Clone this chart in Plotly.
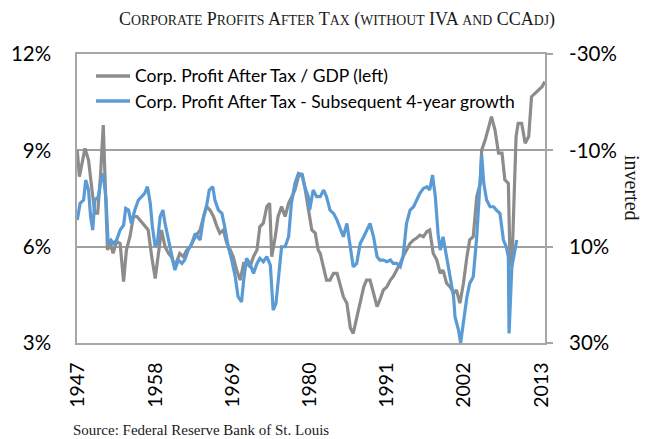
import plotly.graph_objects as go

# Corp. Profit After Tax / GDP (left axis, %)
gdp_years = [1946.9, 1947.2, 1948.0, 1948.5, 1949.0, 1949.4, 1949.8, 1950.2, 1950.6, 1950.9,
             1951.2, 1951.6, 1952.0, 1952.5, 1953.0, 1953.5, 1953.9, 1954.4, 1954.9, 1955.4,
             1955.8, 1956.3, 1957.0, 1957.5, 1958.0, 1958.4, 1958.9, 1959.4, 1959.9, 1960.3,
             1960.8, 1961.5, 1962.0, 1962.5, 1963.0, 1963.7, 1964.4, 1964.9, 1965.3, 1965.8,
             1966.3, 1966.8, 1967.2, 1967.7, 1968.2, 1968.7, 1969.1, 1969.6, 1970.1, 1970.6,
             1971.0, 1971.5, 1972.0, 1972.5, 1972.9, 1973.4, 1973.9, 1974.3, 1974.6, 1975.1,
             1975.5, 1976.0, 1976.5, 1977.0, 1977.4, 1977.9, 1978.4, 1978.9, 1979.3, 1979.8,
             1980.3, 1980.8, 1981.2, 1981.5, 1982.0, 1982.4, 1982.9, 1983.4, 1983.9, 1984.3,
             1984.8, 1985.3, 1985.8, 1986.2, 1986.7, 1987.2, 1987.7, 1988.1, 1988.6, 1989.1,
             1989.6, 1990.0, 1990.5, 1991.0, 1991.5, 1991.9, 1992.4, 1992.9, 1993.3, 1993.8,
             1994.3, 1994.8, 1995.2, 1995.7, 1996.2, 1996.7, 1997.1, 1997.6, 1998.1, 1998.6,
             1999.0, 1999.5, 2000.0, 2000.5, 2000.9, 2001.4, 2001.9, 2002.4, 2002.8, 2003.3,
             2003.8, 2004.3, 2004.5, 2005.0, 2005.5, 2005.9, 2006.4, 2006.9, 2007.4, 2007.8,
             2008.3, 2008.5, 2008.8, 2009.1, 2009.4, 2009.7, 2010.2, 2010.7, 2011.2, 2011.6,
             2012.1, 2012.6, 2013.1, 2013.5]
gdp_ratio = [9.01, 8.18, 9.06, 8.70, 7.76, 7.04, 7.04, 8.18, 9.79, 7.76,
             5.90, 6.10, 5.79, 6.16, 6.10, 4.91, 5.90, 6.31, 6.94, 6.94,
             6.83, 6.73, 6.52, 5.69, 5.01, 5.69, 6.52, 6.00, 5.79, 5.69,
             5.38, 5.79, 5.69, 5.90, 6.00, 6.31, 6.52, 6.94, 7.25, 7.14,
             6.94, 6.62, 6.42, 6.52, 6.10, 5.90, 5.69, 5.27, 4.96, 5.48,
             5.48, 5.38, 5.69, 5.90, 6.62, 6.73, 7.25, 7.35, 5.69, 6.31,
             6.94, 7.25, 6.94, 7.35, 7.56, 7.76, 8.18, 8.28, 7.87, 7.14,
             6.52, 6.42, 5.90, 5.79, 5.27, 4.96, 4.96, 5.17, 5.17, 4.86,
             4.44, 4.24, 3.46, 3.30, 3.82, 4.34, 4.75, 4.96, 4.96, 4.55,
             4.13, 4.34, 4.65, 4.75, 4.96, 5.07, 5.27, 5.48, 5.69, 5.90,
             6.10, 6.21, 6.26, 6.36, 6.31, 6.47, 6.52, 5.79, 5.59, 5.17,
             5.27, 4.86, 4.75, 4.55, 4.65, 4.24, 4.86, 5.69, 6.21, 6.31,
             7.56, 7.97, 9.01, 9.32, 9.74, 10.05, 9.63, 8.91, 8.91, 8.08,
             7.97, 5.90, 5.38, 7.45, 9.43, 9.84, 9.84, 9.22, 9.43, 10.67,
             10.77, 10.88, 10.98, 11.14]

# Corp. Profit After Tax - Subsequent 4-year growth (right axis, inverted, %)
growth_years = [1946.9, 1947.3, 1947.8, 1948.1, 1948.5, 1948.8, 1949.1, 1949.4, 1949.9, 1950.2,
                1950.6, 1951.0, 1951.3, 1951.7, 1952.0, 1952.5, 1953.0, 1953.5, 1953.8, 1954.2,
                1954.6, 1955.1, 1955.6, 1956.1, 1956.5, 1956.9, 1957.3, 1957.6, 1958.0, 1958.3,
                1958.7, 1959.1, 1959.4, 1959.9, 1960.3, 1960.8, 1961.3, 1961.8, 1962.2, 1962.7,
                1963.2, 1963.7, 1964.4, 1964.9, 1965.3, 1965.7, 1966.2, 1966.5, 1967.0, 1967.5,
                1967.9, 1968.4, 1968.9, 1969.4, 1969.8, 1970.3, 1970.6, 1971.0, 1971.5, 1972.0,
                1972.5, 1972.9, 1973.4, 1973.9, 1974.4, 1974.8, 1975.2, 1975.5, 1976.0, 1976.5,
                1977.0, 1977.4, 1977.9, 1978.4, 1978.9, 1979.3, 1979.8, 1980.0, 1980.5, 1981.0,
                1981.5, 1982.0, 1982.4, 1982.9, 1983.4, 1983.9, 1984.3, 1984.8, 1985.3, 1985.8,
                1986.2, 1986.7, 1987.2, 1987.7, 1988.1, 1988.6, 1989.1, 1989.6, 1990.0, 1990.5,
                1991.0, 1991.5, 1991.9, 1992.4, 1992.9, 1993.3, 1993.8, 1994.3, 1994.8, 1995.2,
                1995.7, 1996.2, 1996.7, 1997.1, 1997.5, 1997.9, 1998.3, 1998.6, 1999.0, 1999.5,
                2000.0, 2000.5, 2000.7, 2001.2, 2001.5, 2001.9, 2002.4, 2002.8, 2003.3, 2003.8,
                2004.3, 2004.5, 2004.8, 2005.2, 2005.7, 2006.2, 2006.6, 2007.1, 2007.6, 2008.0,
                2008.3, 2008.4, 2008.8, 2009.2, 2009.5]
growth_4y = [4.48, 1.02, 0.32, -3.83, -1.75, 3.78, 6.55, 0.32, -0.37, -3.14,
             -5.22, 0.32, 9.32, 8.63, 9.32, 8.63, 6.55, 5.51, 2.05, 2.40,
             5.17, 2.40, 0.32, -0.37, -1.06, -2.45, 1.02, 5.86, 10.02, 9.32,
             3.78, 2.40, 5.17, 8.63, 11.40, 14.86, 12.78, 13.48, 12.78, 10.71,
             9.32, 7.25, 8.63, 3.78, 1.71, -1.75, -2.45, 0.32, 2.40, 3.09,
             5.86, 10.02, 12.78, 16.25, 20.40, 21.44, 16.94, 12.44, 13.48, 15.55,
             13.48, 12.44, 13.13, 12.09, 13.82, 23.17, 21.78, 17.63, 10.02, 10.02,
             7.94, 1.02, -3.14, -5.22, -4.87, -2.45, -0.37, 2.40, -1.75, -0.37,
             -0.37, -1.75, -0.37, 2.40, 3.09, 4.48, 5.86, 7.94, 5.17, 10.71,
             14.17, 13.48, 9.32, 7.94, 6.55, 5.17, 7.94, 12.09, 12.78, 12.78,
             13.13, 12.78, 13.48, 13.48, 14.17, 12.09, 5.17, 2.40, 1.71, 0.32,
             -1.06, -2.10, -2.45, -1.75, -4.87, -0.37, 7.50, 10.71, 7.94, 12.09,
             16.25, 20.40, 24.55, 27.32, 30.00, 25.94, 20.40, 17.63, 16.25, 7.94,
             -3.14, -9.02, -3.14, 0.32, 1.71, 1.71, 2.40, 3.09, 8.63, 10.02,
             12.09, 28.02, 14.17, 11.40, 8.63]

left_ticks = [3, 6, 9, 12]
left_labels = ["3%", "6%", "9%", "12%"]
right_ticks = [-30, -10, 10, 30]
right_labels = ["-30%", "-10%", "10%", "30%"]
year_ticks = [1947, 1958, 1969, 1980, 1991, 2002, 2013]

GRAY = "#8c8c8c"
BLUE = "#5b9bd5"
AXIS = "#a6a6a6"
SANS = "Lato, 'Open Sans', sans-serif"
SERIF = "'Liberation Serif', 'DejaVu Serif', serif"

fig = go.Figure()
fig.add_trace(go.Scatter(x=gdp_years, y=gdp_ratio, mode="lines",
                         line=dict(color=GRAY, width=3.2), showlegend=False,
                         name="Corp. Profit After Tax / GDP (left)"))
fig.add_trace(go.Scatter(x=growth_years, y=growth_4y, mode="lines", yaxis="y2",
                         line=dict(color=BLUE, width=3.2), showlegend=False,
                         name="Corp. Profit After Tax - Subsequent 4-year growth"))

L, R, T, B = 77, 545, 54, 343
W, H = 650, 439
def px(x):
    return (x - L) / (R - L)
def py(y):
    return (B - y) / (B - T)

shapes = []
annotations = []
legend_items = [("Corp. Profit After Tax / GDP (left)", GRAY, 76),
                ("Corp. Profit After Tax - Subsequent 4-year growth", BLUE, 101)]
for text, col, yy in legend_items:
    shapes.append(dict(type="line", xref="paper", yref="paper",
                       x0=px(96), x1=px(130), y0=py(yy), y1=py(yy),
                       line=dict(color=col, width=3.5)))
    annotations.append(dict(text=text, xref="paper", yref="paper", x=px(133), y=py(yy),
                            xanchor="left", yanchor="middle", showarrow=False,
                            font=dict(family=SANS, size=17.5, color="#000000")))

SMALL = 13.8
def sc(big, small):
    return big + '<span style="font-size:%spx">' % SMALL + small + '</span>'
def sm(s):
    return '<span style="font-size:%spx">' % SMALL + s + '</span>'

title = (sc("C", "ORPORATE") + " " + sc("P", "ROFITS") + " " + sc("A", "FTER") + " " +
         sc("T", "AX") + " (" + sm("WITHOUT") + " IVA " + sm("AND") + " CCA" + sm("DJ") + ")")
annotations.append(dict(text=title, xref="paper", yref="paper", x=px(337), y=py(20),
                        xanchor="center", yanchor="middle", showarrow=False,
                        font=dict(family=SERIF, size=18, color="#1a1a1a")))
annotations.append(dict(text="inverted", xref="paper", yref="paper", x=px(632), y=py(188),
                        xanchor="center", yanchor="middle", showarrow=False, textangle=90,
                        font=dict(family=SERIF, size=20, color="#1a1a1a")))
annotations.append(dict(text="Source: Federal Reserve Bank of St. Louis", xref="paper", yref="paper",
                        x=px(71), y=py(430), xanchor="left", yanchor="middle", showarrow=False,
                        font=dict(family=SERIF, size=15, color="#1a1a1a")))

fig.update_layout(
    width=W, height=H,
    margin=dict(l=L, r=W - R, t=T, b=H - B, pad=0),
    paper_bgcolor="white", plot_bgcolor="white",
    showlegend=False,
    shapes=shapes, annotations=annotations,
    xaxis=dict(range=[1946.86, 2013.52], tickmode="array", tickvals=year_ticks,
               ticktext=[str(y) for y in year_ticks], tickangle=-90,
               tickfont=dict(family=SANS, size=19.5, color="#000000"),
               showgrid=False, zeroline=False, showline=True, mirror=True,
               linecolor=AXIS, linewidth=1.5, ticks="", ticklabelstandoff=10),
    yaxis=dict(range=[3, 12], tickmode="array", tickvals=left_ticks, ticktext=left_labels,
               tickfont=dict(family=SANS, size=20.5, color="#000000"),
               showgrid=True, gridcolor="#a0a0a0", gridwidth=1.5, zeroline=False,
               showline=True, mirror=True, linecolor=AXIS, linewidth=1.5,
               ticks="", ticklabelstandoff=20),
    yaxis2=dict(range=[30, -30], overlaying="y", side="right", tickmode="array",
                tickvals=right_ticks, ticktext=right_labels,
                tickfont=dict(family=SANS, size=20.5, color="#000000"),
                showgrid=False, zeroline=False, showline=False,
                ticks="outside", ticklen=7, tickcolor=AXIS, tickwidth=1.5,
                ticklabelstandoff=12),
)

fig.write_html("out.html", config={"displayModeBar": False},
               post_script="document.body.style.margin='0px';")
